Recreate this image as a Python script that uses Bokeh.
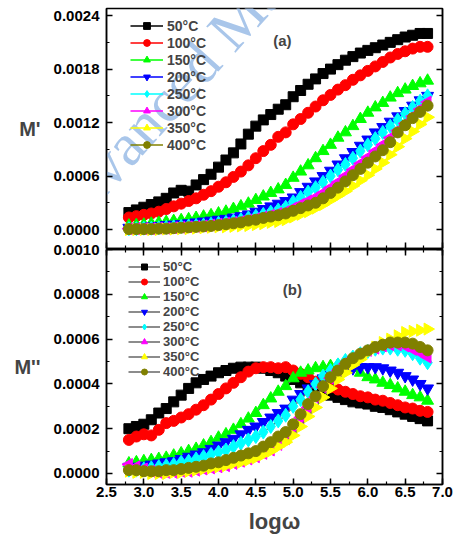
import math
from bokeh.plotting import figure
from bokeh.models import (Range1d, LinearAxis, SingleIntervalTicker, PrintfTickFormatter,
                          CustomJSTickFormatter, Legend, LegendItem, Label)
from bokeh.layouts import column
from bokeh.embed import file_html
from bokeh.resources import INLINE

# ---------------- data ----------------
log_omega = [2.8, 2.9, 3.0, 3.1, 3.2, 3.3, 3.4, 3.5, 3.6, 3.7, 3.8, 3.9, 4.0,
             4.1, 4.2, 4.3, 4.4, 4.5, 4.6, 4.7, 4.8, 4.9, 5.0,
             5.1, 5.2, 5.3, 5.4, 5.5, 5.6, 5.7, 5.8, 5.9, 6.0,
             6.1, 6.2, 6.3, 6.4, 6.5, 6.6, 6.7, 6.8]

temps = ["50°C", "100°C", "150°C", "200°C", "250°C", "300°C", "350°C", "400°C"]

# M' (panel a)
m1_50 = [1.9e-4, 2.2e-4, 2.5e-4, 2.8e-4, 3.1e-4, 3.5e-4, 4.1e-4, 4.4e-4, 4.3e-4, 5.0e-4, 5.6e-4, 6.2e-4, 7.0e-4,
         7.8e-4, 8.6e-4, 9.6e-4, 10.7e-4, 11.6e-4, 12.3e-4, 12.9e-4, 13.5e-4, 14.0e-4, 14.9e-4,
         15.6e-4, 16.3e-4, 16.9e-4, 17.5e-4, 18.0e-4, 18.5e-4, 19.0e-4, 19.4e-4, 19.8e-4, 20.1e-4,
         20.4e-4, 20.7e-4, 21.0e-4, 21.3e-4, 21.6e-4, 21.8e-4, 22.0e-4, 22.0e-4]
m1_100 = [1.35e-4, 1.5e-4, 1.65e-4, 1.8e-4, 2.0e-4, 2.3e-4, 2.6e-4, 2.9e-4, 3.2e-4, 3.5e-4, 3.9e-4, 4.3e-4, 4.8e-4,
          5.3e-4, 5.9e-4, 6.5e-4, 7.2e-4, 8.0e-4, 8.8e-4, 9.5e-4, 10.4e-4, 10.9e-4, 11.8e-4,
          12.4e-4, 13.1e-4, 13.8e-4, 14.5e-4, 15.1e-4, 15.7e-4, 16.2e-4, 16.8e-4, 17.3e-4, 17.8e-4,
          18.3e-4, 18.8e-4, 19.3e-4, 19.7e-4, 20.0e-4, 20.3e-4, 20.5e-4, 20.5e-4]
m1_150 = [0.45e-4, 0.5e-4, 0.55e-4, 0.65e-4, 0.75e-4, 0.85e-4, 0.95e-4, 1.05e-4, 1.15e-4, 1.3e-4, 1.45e-4, 1.6e-4, 1.8e-4,
          2.0e-4, 2.3e-4, 2.6e-4, 2.9e-4, 3.3e-4, 3.7e-4, 4.1e-4, 4.5e-4, 5.0e-4, 5.8e-4,
          6.5e-4, 7.2e-4, 8.0e-4, 8.8e-4, 9.5e-4, 10.3e-4, 10.9e-4, 11.6e-4, 12.4e-4, 13.1e-4,
          13.7e-4, 14.2e-4, 14.8e-4, 15.3e-4, 15.7e-4, 16.1e-4, 16.4e-4, 16.7e-4]
m1_200 = [0.2e-4, 0.25e-4, 0.3e-4, 0.35e-4, 0.4e-4, 0.5e-4, 0.55e-4, 0.6e-4, 0.7e-4, 0.8e-4, 0.9e-4, 1.0e-4, 1.1e-4,
          1.2e-4, 1.35e-4, 1.5e-4, 1.7e-4, 2.0e-4, 2.3e-4, 2.6e-4, 2.9e-4, 3.2e-4, 3.6e-4,
          4.2e-4, 4.8e-4, 5.4e-4, 6.0e-4, 6.6e-4, 7.3e-4, 8.0e-4, 8.7e-4, 9.4e-4, 10.1e-4,
          10.9e-4, 11.5e-4, 12.1e-4, 12.7e-4, 13.3e-4, 13.9e-4, 14.5e-4, 15.0e-4]
m1_250 = [0.1e-4, 0.1e-4, 0.15e-4, 0.15e-4, 0.2e-4, 0.25e-4, 0.3e-4, 0.35e-4, 0.4e-4, 0.45e-4, 0.5e-4, 0.6e-4, 0.7e-4,
          0.8e-4, 0.95e-4, 1.1e-4, 1.3e-4, 1.5e-4, 1.7e-4, 1.95e-4, 2.2e-4, 2.5e-4, 3.1e-4,
          3.6e-4, 4.2e-4, 4.7e-4, 5.3e-4, 6.0e-4, 6.7e-4, 7.3e-4, 8.0e-4, 8.8e-4, 9.5e-4,
          10.2e-4, 10.9e-4, 11.6e-4, 12.3e-4, 13.0e-4, 13.7e-4, 14.4e-4, 15.0e-4]
m1_300 = [0.1e-4, 0.1e-4, 0.1e-4, 0.1e-4, 0.15e-4, 0.15e-4, 0.2e-4, 0.25e-4, 0.3e-4, 0.35e-4, 0.4e-4, 0.5e-4, 0.6e-4,
          0.7e-4, 0.8e-4, 0.9e-4, 1.05e-4, 1.2e-4, 1.4e-4, 1.6e-4, 1.8e-4, 2.0e-4, 2.4e-4,
          2.8e-4, 3.2e-4, 3.6e-4, 4.1e-4, 4.7e-4, 5.3e-4, 6.0e-4, 6.7e-4, 7.4e-4, 8.1e-4,
          8.8e-4, 9.5e-4, 10.3e-4, 11.1e-4, 11.9e-4, 12.7e-4, 13.5e-4, 14.3e-4]
m1_350 = [0.0, 0.0, 0.0, 0.0, 0.0, 0.05e-4, 0.05e-4, 0.1e-4, 0.1e-4, 0.15e-4, 0.2e-4, 0.25e-4, 0.3e-4,
          0.3e-4, 0.35e-4, 0.4e-4, 0.45e-4, 0.55e-4, 0.65e-4, 0.8e-4, 0.9e-4, 1.1e-4, 1.4e-4,
          1.7e-4, 2.0e-4, 2.4e-4, 2.8e-4, 3.3e-4, 3.8e-4, 4.3e-4, 4.9e-4, 5.5e-4, 6.1e-4,
          6.8e-4, 7.5e-4, 8.4e-4, 9.3e-4, 10.2e-4, 11.0e-4, 11.8e-4, 12.6e-4]
m1_400 = [0.05e-4, 0.05e-4, 0.05e-4, 0.05e-4, 0.1e-4, 0.1e-4, 0.15e-4, 0.2e-4, 0.25e-4, 0.3e-4, 0.35e-4, 0.4e-4, 0.5e-4,
          0.6e-4, 0.7e-4, 0.8e-4, 1.0e-4, 1.1e-4, 1.3e-4, 1.45e-4, 1.6e-4, 1.8e-4, 2.1e-4,
          2.4e-4, 2.7e-4, 3.0e-4, 3.5e-4, 4.1e-4, 4.7e-4, 5.4e-4, 6.1e-4, 6.8e-4, 7.5e-4,
          8.2e-4, 8.9e-4, 9.8e-4, 10.9e-4, 11.7e-4, 12.5e-4, 13.2e-4, 13.9e-4]

# M'' (panel b)
m2_50 = [2.0e-4, 2.1e-4, 2.2e-4, 2.4e-4, 2.7e-4, 2.9e-4, 3.2e-4, 3.5e-4, 3.8e-4, 4.05e-4, 4.2e-4, 4.35e-4, 4.5e-4,
         4.6e-4, 4.7e-4, 4.75e-4, 4.75e-4, 4.75e-4, 4.7e-4, 4.6e-4, 4.5e-4, 4.35e-4, 4.2e-4,
         4.05e-4, 3.9e-4, 3.75e-4, 3.6e-4, 3.5e-4, 3.4e-4, 3.3e-4, 3.2e-4, 3.15e-4, 3.1e-4,
         3.0e-4, 2.95e-4, 2.85e-4, 2.75e-4, 2.65e-4, 2.55e-4, 2.45e-4, 2.35e-4]
m2_100 = [1.5e-4, 1.65e-4, 1.75e-4, 1.7e-4, 1.95e-4, 2.25e-4, 2.35e-4, 2.5e-4, 2.65e-4, 2.85e-4, 3.05e-4, 3.3e-4, 3.55e-4,
          3.8e-4, 4.05e-4, 4.3e-4, 4.55e-4, 4.7e-4, 4.75e-4, 4.75e-4, 4.7e-4, 4.75e-4, 4.6e-4,
          4.45e-4, 4.3e-4, 4.1e-4, 3.95e-4, 3.85e-4, 3.75e-4, 3.65e-4, 3.55e-4, 3.45e-4, 3.4e-4,
          3.3e-4, 3.25e-4, 3.15e-4, 3.05e-4, 2.95e-4, 2.9e-4, 2.8e-4, 2.75e-4]
m2_150 = [0.45e-4, 0.5e-4, 0.55e-4, 0.6e-4, 0.65e-4, 0.7e-4, 0.8e-4, 0.9e-4, 1.0e-4, 1.1e-4, 1.25e-4, 1.4e-4, 1.6e-4,
          1.75e-4, 1.95e-4, 2.2e-4, 2.45e-4, 2.7e-4, 3.05e-4, 3.35e-4, 3.65e-4, 3.9e-4, 4.25e-4,
          4.5e-4, 4.6e-4, 4.7e-4, 4.75e-4, 4.8e-4, 4.85e-4, 4.8e-4, 4.7e-4, 4.5e-4, 4.3e-4,
          4.2e-4, 4.05e-4, 3.95e-4, 3.8e-4, 3.65e-4, 3.5e-4, 3.4e-4, 3.25e-4]
m2_200 = [0.3e-4, 0.3e-4, 0.35e-4, 0.4e-4, 0.45e-4, 0.5e-4, 0.55e-4, 0.65e-4, 0.75e-4, 0.85e-4, 0.95e-4, 1.1e-4, 1.25e-4,
          1.4e-4, 1.55e-4, 1.75e-4, 1.95e-4, 2.1e-4, 2.3e-4, 2.5e-4, 2.7e-4, 2.9e-4, 3.3e-4,
          3.55e-4, 3.8e-4, 4.0e-4, 4.25e-4, 4.4e-4, 4.55e-4, 4.65e-4, 4.7e-4, 4.75e-4, 4.75e-4,
          4.75e-4, 4.7e-4, 4.6e-4, 4.5e-4, 4.35e-4, 4.2e-4, 4.0e-4, 3.8e-4]
m2_250 = [0.15e-4, 0.15e-4, 0.2e-4, 0.25e-4, 0.3e-4, 0.35e-4, 0.4e-4, 0.5e-4, 0.55e-4, 0.65e-4, 0.75e-4, 0.85e-4, 0.95e-4,
          1.05e-4, 1.2e-4, 1.35e-4, 1.5e-4, 1.65e-4, 1.85e-4, 2.1e-4, 2.35e-4, 2.6e-4, 3.0e-4,
          3.3e-4, 3.65e-4, 4.0e-4, 4.35e-4, 4.6e-4, 4.85e-4, 5.05e-4, 5.2e-4, 5.35e-4, 5.45e-4,
          5.55e-4, 5.6e-4, 5.6e-4, 5.55e-4, 5.5e-4, 5.35e-4, 5.15e-4, 4.95e-4]
m2_300 = [0.4e-4, 0.3e-4, 0.2e-4, 0.1e-4, 0.05e-4, 0.05e-4, 0.05e-4, 0.1e-4, 0.1e-4, 0.15e-4, 0.2e-4, 0.25e-4, 0.3e-4,
          0.35e-4, 0.45e-4, 0.55e-4, 0.65e-4, 0.75e-4, 0.9e-4, 1.05e-4, 1.3e-4, 1.55e-4, 2.0e-4,
          2.5e-4, 2.95e-4, 3.4e-4, 3.85e-4, 4.25e-4, 4.6e-4, 4.9e-4, 5.15e-4, 5.35e-4, 5.5e-4,
          5.6e-4, 5.7e-4, 5.75e-4, 5.75e-4, 5.7e-4, 5.55e-4, 5.4e-4, 5.2e-4]
m2_350 = [0.1e-4, 0.05e-4, 0.05e-4, 0.0, 0.0, 0.0, 0.05e-4, 0.05e-4, 0.1e-4, 0.15e-4, 0.2e-4, 0.25e-4, 0.3e-4,
          0.35e-4, 0.45e-4, 0.5e-4, 0.6e-4, 0.7e-4, 0.85e-4, 1.0e-4, 1.2e-4, 1.4e-4, 1.7e-4,
          2.1e-4, 2.55e-4, 2.95e-4, 3.4e-4, 3.8e-4, 4.2e-4, 4.5e-4, 4.85e-4, 5.1e-4, 5.4e-4,
          5.65e-4, 5.85e-4, 6.0e-4, 6.15e-4, 6.3e-4, 6.35e-4, 6.4e-4, 6.45e-4]
m2_400 = [0.15e-4, 0.15e-4, 0.1e-4, 0.1e-4, 0.1e-4, 0.15e-4, 0.15e-4, 0.2e-4, 0.25e-4, 0.3e-4, 0.35e-4, 0.45e-4, 0.5e-4,
          0.6e-4, 0.7e-4, 0.8e-4, 0.9e-4, 1.0e-4, 1.2e-4, 1.4e-4, 1.65e-4, 1.85e-4, 2.2e-4,
          2.65e-4, 3.1e-4, 3.45e-4, 3.9e-4, 4.3e-4, 4.6e-4, 4.9e-4, 5.15e-4, 5.35e-4, 5.5e-4,
          5.65e-4, 5.75e-4, 5.85e-4, 5.85e-4, 5.85e-4, 5.8e-4, 5.65e-4, 5.5e-4]

m1_series = [m1_50, m1_100, m1_150, m1_200, m1_250, m1_300, m1_350, m1_400]
m2_series = [m2_50, m2_100, m2_150, m2_200, m2_250, m2_300, m2_350, m2_400]

# ---------------- styles ----------------
colors = ["#000000", "#ff0000", "#00ff00", "#0000ff", "#00ffff", "#ff00ff", "#ffff00", "#808000"]
markers = ["square", "circle", "triangle", "inverted_triangle", "diamond", "triangle", "triangle", "circle"]
angles = [0, 0, 0, 0, 0, math.pi / 2, -math.pi / 2, 0]
sizes = [10, 11, 12, 12, 14, 12, 12, 11]
FONT = "Liberation Sans"
WM_COLOR = "#a9c6ea"
WM_FONT = "Liberation Serif"
WM_SIZE = "60px"
WM_ANGLE = math.radians(48)


def style_axis(ax, labels=True, size="15px", standoff=7):
    ax.axis_line_color = "black"
    ax.axis_line_width = 1.5
    ax.major_tick_in = 6
    ax.major_tick_out = 0
    ax.minor_tick_in = 3
    ax.minor_tick_out = 0
    ax.major_tick_line_color = "black"
    ax.minor_tick_line_color = "black"
    ax.major_tick_line_width = 1.5
    ax.minor_tick_line_width = 1.2
    if labels:
        ax.major_label_text_font = FONT
        ax.major_label_text_font_style = "bold"
        ax.major_label_text_font_size = size
        ax.major_label_text_color = "black"
        ax.major_label_standoff = standoff
    else:
        ax.formatter = CustomJSTickFormatter(code="return ''")
        ax.major_label_text_font_size = "1px"
        ax.major_label_standoff = 0


def base_fig(height, yr, top, bottom):
    p = figure(width=453, height=height, x_range=Range1d(2.5, 7.0), y_range=yr,
               output_backend="svg", toolbar_location=None,
               min_border_left=106, min_border_right=11,
               min_border_top=top, min_border_bottom=bottom)
    p.xgrid.visible = False
    p.ygrid.visible = False
    p.outline_line_color = "black"
    p.outline_line_width = 1.5
    p.background_fill_color = "white"
    return p


def wm_label(x, y, text, align):
    return Label(x=x, y=y, text=text, angle=WM_ANGLE, text_font=WM_FONT,
                 text_font_size=WM_SIZE, text_color=WM_COLOR, text_align=align,
                 text_baseline="alphabetic", level="underlay")


# ---------------- panel (a) ----------------
p1 = base_fig(252, Range1d(-0.000213, 0.00248), 8, 4)
p1.border_fill_color = "white"
p1.add_layout(wm_label(1.697, -0.0000336, "Advanced Ma", "left"))

style_axis(p1.xaxis[0], labels=False)
p1.xaxis[0].ticker = SingleIntervalTicker(interval=0.5, num_minor_ticks=2)
style_axis(p1.yaxis[0])
p1.yaxis[0].ticker = SingleIntervalTicker(interval=0.0006, num_minor_ticks=2)
p1.yaxis[0].formatter = PrintfTickFormatter(format="%.4f")
p1.yaxis[0].axis_label = "M'"
p1.yaxis[0].axis_label_orientation = "horizontal"
p1.yaxis[0].axis_label_text_font = FONT
p1.yaxis[0].axis_label_text_font_style = "bold"
p1.yaxis[0].axis_label_text_font_size = "20px"
p1.yaxis[0].axis_label_standoff = 10
r1 = LinearAxis(ticker=SingleIntervalTicker(interval=0.0006, num_minor_ticks=2))
style_axis(r1, labels=False)
p1.add_layout(r1, "right")

items1 = []
for t, ys, c, m, a, s in zip(temps, m1_series, colors, markers, angles, sizes):
    ln = p1.line(log_omega, ys, line_color=c, line_width=1.5)
    sc = p1.scatter(log_omega, ys, marker=m, angle=a, size=s, fill_color=c, line_color=c)
    items1.append(LegendItem(label=t, renderers=[ln, sc]))

leg1 = Legend(items=items1, location=(24, 95), border_line_alpha=0, background_fill_alpha=0,
              label_text_font=FONT, label_text_font_style="bold", label_text_font_size="14px",
              glyph_width=33, glyph_height=17, label_height=17, spacing=0, padding=0, margin=0,
              label_standoff=4)
p1.add_layout(leg1)
p1.add_layout(Label(x=4.856, y=0.00212, text="(a)", text_font=FONT, text_font_style="bold",
                    text_font_size="15px", text_align="center", text_baseline="middle"))

# ---------------- panel (b) ----------------
p2 = base_fig(298, Range1d(-0.0000492, 0.0010005), 10, 53)
p2.border_fill_color = None
p2.margin = (-13, 0, -10, 0)
p2.add_layout(wm_label(1.563, 0.001028, "e:", "right"))

style_axis(p2.xaxis[0], standoff=2)
p2.xaxis[0].ticker = SingleIntervalTicker(interval=0.5, num_minor_ticks=2)
p2.xaxis[0].formatter = PrintfTickFormatter(format="%.1f")
p2.xaxis[0].axis_label = "logω"
p2.xaxis[0].axis_label_text_font = FONT
p2.xaxis[0].axis_label_text_font_style = "bold"
p2.xaxis[0].axis_label_text_font_size = "22px"
p2.xaxis[0].axis_label_standoff = 9
style_axis(p2.yaxis[0])
p2.yaxis[0].ticker = SingleIntervalTicker(interval=0.0002, num_minor_ticks=2)
p2.yaxis[0].formatter = PrintfTickFormatter(format="%.4f")
p2.yaxis[0].axis_label = "M''"
p2.yaxis[0].axis_label_orientation = "horizontal"
p2.yaxis[0].axis_label_text_font = FONT
p2.yaxis[0].axis_label_text_font_style = "bold"
p2.yaxis[0].axis_label_text_font_size = "20px"
p2.yaxis[0].axis_label_standoff = 10
r2 = LinearAxis(ticker=SingleIntervalTicker(interval=0.0002, num_minor_ticks=2))
style_axis(r2, labels=False)
p2.add_layout(r2, "right")
t2 = LinearAxis(ticker=SingleIntervalTicker(interval=0.5, num_minor_ticks=2))
style_axis(t2, labels=False)
p2.add_layout(t2, "above")

items2 = []
for t, ys, c, m, a, s in zip(temps, m2_series, colors, markers, angles, sizes):
    ln = p2.line(log_omega, ys, line_color="#666666", line_width=1.5)
    sc = p2.scatter(log_omega, ys, marker=m, angle=a, size=s, fill_color=c, line_color=c)
    items2.append(LegendItem(label=t, renderers=[ln, sc]))

leg2 = Legend(items=items2, location=(22, 105), border_line_alpha=0, background_fill_alpha=0,
              label_text_font=FONT, label_text_font_style="bold", label_text_font_size="13px",
              glyph_width=32, glyph_height=15, label_height=15, spacing=0, padding=0, margin=0,
              label_standoff=3)
p2.add_layout(leg2)
p2.add_layout(Label(x=4.99, y=0.000822, text="(b)", text_font=FONT, text_font_style="bold",
                    text_font_size="15px", text_align="center", text_baseline="middle"))

layout = column(p1, p2)
open("out.html", "w").write(file_html(layout, INLINE))
